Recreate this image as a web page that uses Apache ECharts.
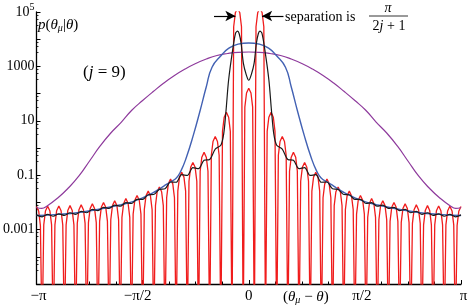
<!DOCTYPE html>
<html>
<head>
<meta charset="utf-8">
<script src="https://cdn.jsdelivr.net/npm/echarts@6/dist/echarts.min.js"></script>
<style>html,body{margin:0;padding:0;background:#fff}#c{width:471px;height:307px}</style>
</head>
<body>
<div id="c"></div>
<script>
// x in units of pi, y = p(theta_mu | theta)
const xTickValues = [-1, -0.5, 0, 0.5, 1];
const xTickLabels = ['{a|−π}', '{b|−π/2}', '0', '{c|π/2}', '{d|π}'];
const yTickValues = [1e5, 1e3, 10, 0.1, 0.001];
const yTickLabels = ['10{sup|5}', '1000', '10', '0.1', '0.001'];

const purpleCurve = [
  [-1.0, 0.0065], [-0.975, 0.0060], [-0.95, 0.0074], [-0.9, 0.0145], [-0.85, 0.0338], [-0.8, 0.0935],
  [-0.75, 0.333], [-0.7, 1.19], [-0.65, 3.56], [-0.6, 9.0], [-0.55, 24.9], [-0.5, 55.7], [-0.45, 119],
  [-0.4, 245], [-0.35, 463], [-0.3, 802], [-0.25, 1279], [-0.2, 1871], [-0.15, 2516], [-0.1, 2981],
  [-0.05, 3297], [0, 3381], [0.05, 3297], [0.1, 2981], [0.15, 2516], [0.2, 1871], [0.25, 1279],
  [0.3, 802], [0.35, 463], [0.4, 245], [0.45, 119], [0.5, 55.7], [0.55, 24.9], [0.6, 9.0], [0.65, 3.56],
  [0.7, 1.19], [0.75, 0.333], [0.8, 0.0935], [0.85, 0.0338], [0.9, 0.0145], [0.95, 0.0074],
  [0.975, 0.0060], [1.0, 0.0065]
];

const blueCurve = [
  [-1, 0.00331], [-0.9, 0.00363], [-0.8, 0.00427], [-0.7, 0.00575], [-0.6, 0.00832], [-0.55, 0.0105],
  [-0.5, 0.0148], [-0.45, 0.0229], [-0.43, 0.0282], [-0.4, 0.0398], [-0.37, 0.0562], [-0.341, 0.0794],
  [-0.32, 0.141], [-0.294, 0.447], [-0.26, 3.16], [-0.229, 24], [-0.2, 178], [-0.173, 933],
  [-0.13, 2512], [-0.0935, 4677], [-0.05, 6607], [0, 7244], [0.05, 6607], [0.0935, 4677],
  [0.13, 2512], [0.173, 933], [0.2, 178], [0.229, 24], [0.26, 3.16], [0.294, 0.447], [0.32, 0.141],
  [0.341, 0.0794], [0.37, 0.0562], [0.4, 0.0398], [0.43, 0.0282], [0.45, 0.0229], [0.5, 0.0148],
  [0.55, 0.0105], [0.6, 0.00832], [0.7, 0.00575], [0.8, 0.00427], [0.9, 0.00363], [1, 0.00331]
];

const blackCurve = [
  [-1.0, 0.00347], [-0.9737, 0.00295], [-0.9474, 0.00363], [-0.9211, 0.00309], [-0.8947, 0.00380],
  [-0.8684, 0.00331], [-0.8421, 0.00417], [-0.8158, 0.00363], [-0.7895, 0.00468], [-0.7632, 0.00417],
  [-0.7368, 0.00550], [-0.7105, 0.00501], [-0.6842, 0.00661], [-0.6579, 0.00603], [-0.6316, 0.00794],
  [-0.6053, 0.00724], [-0.5789, 0.00977], [-0.5526, 0.00912], [-0.5263, 0.0129], [-0.5, 0.0129],
  [-0.4737, 0.0191], [-0.4474, 0.0195], [-0.4211, 0.0302], [-0.3947, 0.0316], [-0.3684, 0.0562],
  [-0.3421, 0.055], [-0.3158, 0.105], [-0.2895, 0.0977], [-0.2632, 0.191], [-0.2368, 0.174],
  [-0.2105, 0.355], [-0.1842, 0.380], [-0.1579, 0.912], [-0.1316, 1.26], [-0.118, 3.31], [-0.107, 24.0],
  [-0.095, 309], [-0.076, 3981], [-0.062, 16600], [-0.0526, 19950], [-0.045, 15850], [-0.036, 7079],
  [-0.025, 1259], [-0.012, 501], [0, 309], [0.012, 501], [0.025, 1259], [0.036, 7079], [0.045, 15850],
  [0.0526, 19950], [0.062, 16600], [0.076, 3981], [0.095, 309], [0.107, 24.0], [0.118, 3.31],
  [0.1316, 1.26], [0.1579, 0.912], [0.1842, 0.380], [0.2105, 0.355], [0.2368, 0.174], [0.2632, 0.191],
  [0.2895, 0.0977], [0.3158, 0.105], [0.3421, 0.055], [0.3684, 0.0562], [0.3947, 0.0316], [0.4211, 0.0302],
  [0.4474, 0.0195], [0.4737, 0.0191], [0.5, 0.0129], [0.5263, 0.0129], [0.5526, 0.00912], [0.5789, 0.00977],
  [0.6053, 0.00724], [0.6316, 0.00794], [0.6579, 0.00603], [0.6842, 0.00661], [0.7105, 0.00501],
  [0.7368, 0.00550], [0.7632, 0.00417], [0.7895, 0.00468], [0.8158, 0.00363], [0.8421, 0.00417],
  [0.8684, 0.00331], [0.8947, 0.00380], [0.9211, 0.00309], [0.9474, 0.00363], [0.9737, 0.00295],
  [1.0, 0.00347]
];

const redCurve = [
  [-1.0000, 0.0071], [-0.9895, 0.0047], [-0.9816, 0.0014], [-0.9737, 1e-7],
  [-0.9658, 0.0015], [-0.9579, 0.0048], [-0.9474, 0.0072], [-0.9368, 0.0048], [-0.9289, 0.0015], [-0.9211, 1e-7],
  [-0.9132, 0.0015], [-0.9053, 0.0049], [-0.8947, 0.0074], [-0.8842, 0.0049], [-0.8763, 0.0015], [-0.8684, 1e-7],
  [-0.8605, 0.0015], [-0.8526, 0.0050], [-0.8421, 0.0076], [-0.8316, 0.0050], [-0.8237, 0.0015], [-0.8158, 1e-7],
  [-0.8079, 0.0017], [-0.8000, 0.0054], [-0.7895, 0.0081], [-0.7789, 0.0054], [-0.7711, 0.0017], [-0.7632, 1e-7],
  [-0.7553, 0.0018], [-0.7474, 0.0059], [-0.7368, 0.0089], [-0.7263, 0.0059], [-0.7184, 0.0018], [-0.7105, 1e-7],
  [-0.7026, 0.0020], [-0.6947, 0.0066], [-0.6842, 0.0100], [-0.6737, 0.0066], [-0.6658, 0.0020], [-0.6579, 1e-7],
  [-0.6500, 0.0023], [-0.6421, 0.0076], [-0.6316, 0.0115], [-0.6211, 0.0076], [-0.6132, 0.0023], [-0.6053, 1e-7],
  [-0.5974, 0.0028], [-0.5895, 0.0091], [-0.5789, 0.0138], [-0.5684, 0.0091], [-0.5605, 0.0028], [-0.5526, 1e-7],
  [-0.5447, 0.0037], [-0.5368, 0.0120], [-0.5263, 0.0180], [-0.5158, 0.0120], [-0.5079, 0.0037], [-0.5000, 1e-7],
  [-0.4921, 0.0054], [-0.4842, 0.0174], [-0.4737, 0.0260], [-0.4632, 0.0174], [-0.4553, 0.0054], [-0.4474, 1e-7],
  [-0.4395, 0.0076], [-0.4316, 0.0246], [-0.4211, 0.0370], [-0.4105, 0.0246], [-0.4026, 0.0076], [-0.3947, 1e-7],
  [-0.3868, 0.0148], [-0.3789, 0.048], [-0.3684, 0.072], [-0.3579, 0.048], [-0.3500, 0.0148], [-0.3421, 1e-7],
  [-0.3342, 0.026], [-0.3263, 0.085], [-0.3158, 0.129], [-0.3053, 0.085], [-0.2974, 0.026], [-0.2895, 1e-7],
  [-0.2816, 0.060], [-0.2737, 0.195], [-0.2632, 0.295], [-0.2526, 0.195], [-0.2447, 0.060], [-0.2368, 1e-7],
  [-0.2289, 0.14], [-0.2211, 0.46], [-0.2105, 0.69], [-0.2000, 0.46], [-0.1921, 0.14], [-0.1842, 1e-7],
  [-0.1763, 0.54], [-0.1684, 1.74], [-0.1579, 2.63], [-0.1474, 1.74], [-0.1395, 0.54], [-0.1316, 1e-7],
  [-0.1237, 4.1], [-0.1158, 13.5], [-0.1053, 20.4], [-0.0947, 13.5], [-0.0868, 4.1], [-0.0789, 1e-7],
  [-0.0710, 28800], [-0.0631, 93300], [-0.0526, 141000], [-0.0421, 93300], [-0.0342, 28800], [-0.0263, 1e-7],
  [-0.0184, 32], [-0.0105, 105], [0, 158], [0.0105, 105], [0.0184, 32], [0.0263, 1e-7],
  [0.0342, 28800], [0.0421, 93300], [0.0526, 141000], [0.0631, 93300], [0.0710, 28800], [0.0789, 1e-7],
  [0.0868, 4.1], [0.0947, 13.5], [0.1053, 20.4], [0.1158, 13.5], [0.1237, 4.1], [0.1316, 1e-7],
  [0.1395, 0.54], [0.1474, 1.74], [0.1579, 2.63], [0.1684, 1.74], [0.1763, 0.54], [0.1842, 1e-7],
  [0.1921, 0.14], [0.2000, 0.46], [0.2105, 0.69], [0.2211, 0.46], [0.2289, 0.14], [0.2368, 1e-7],
  [0.2447, 0.060], [0.2526, 0.195], [0.2632, 0.295], [0.2737, 0.195], [0.2816, 0.060], [0.2895, 1e-7],
  [0.2974, 0.026], [0.3053, 0.085], [0.3158, 0.129], [0.3263, 0.085], [0.3342, 0.026], [0.3421, 1e-7],
  [0.3500, 0.0148], [0.3579, 0.048], [0.3684, 0.072], [0.3789, 0.048], [0.3868, 0.0148], [0.3947, 1e-7],
  [0.4026, 0.0076], [0.4105, 0.0246], [0.4211, 0.0370], [0.4316, 0.0246], [0.4395, 0.0076], [0.4474, 1e-7],
  [0.4553, 0.0054], [0.4632, 0.0174], [0.4737, 0.0260], [0.4842, 0.0174], [0.4921, 0.0054], [0.5000, 1e-7],
  [0.5079, 0.0037], [0.5158, 0.0120], [0.5263, 0.0180], [0.5368, 0.0120], [0.5447, 0.0037], [0.5526, 1e-7],
  [0.5605, 0.0028], [0.5684, 0.0091], [0.5789, 0.0138], [0.5895, 0.0091], [0.5974, 0.0028], [0.6053, 1e-7],
  [0.6132, 0.0023], [0.6211, 0.0076], [0.6316, 0.0115], [0.6421, 0.0076], [0.6500, 0.0023], [0.6579, 1e-7],
  [0.6658, 0.0020], [0.6737, 0.0066], [0.6842, 0.0100], [0.6947, 0.0066], [0.7026, 0.0020], [0.7105, 1e-7],
  [0.7184, 0.0018], [0.7263, 0.0059], [0.7368, 0.0089], [0.7474, 0.0059], [0.7553, 0.0018], [0.7632, 1e-7],
  [0.7711, 0.0017], [0.7789, 0.0054], [0.7895, 0.0081], [0.8000, 0.0054], [0.8079, 0.0017], [0.8158, 1e-7],
  [0.8237, 0.0015], [0.8316, 0.0050], [0.8421, 0.0076], [0.8526, 0.0050], [0.8605, 0.0015], [0.8684, 1e-7],
  [0.8763, 0.0015], [0.8842, 0.0049], [0.8947, 0.0074], [0.9053, 0.0049], [0.9132, 0.0015], [0.9211, 1e-7],
  [0.9289, 0.0015], [0.9368, 0.0048], [0.9474, 0.0072], [0.9579, 0.0048], [0.9658, 0.0015], [0.9737, 1e-7],
  [0.9816, 0.0014], [0.9895, 0.0047], [1.0000, 0.0071]
];

// separation arrows (data coords)
const arrowY = 71300;
const arrowLeft = [-0.1636, -0.063];
const arrowRight = [0.1636, 0.063];

const SERIF = '"Liberation Serif", "DejaVu Serif", serif';
const chart = echarts.init(document.getElementById('c'), null, {renderer: 'canvas'});

const lbl = (extra) => Object.assign({fontFamily: SERIF, fontSize: 15, color: '#000'}, extra);

const option = {
  animation: false,
  backgroundColor: '#fff',
  grid: {left: 33, right: 10, top: 12, bottom: 23, containLabel: false},
  xAxis: {
    type: 'value', min: -1, max: 1, interval: 0.5,
    axisLine: {onZero: false, lineStyle: {color: '#000', width: 1.3}},
    axisTick: {inside: true, length: 4, lineStyle: {color: '#000', width: 1}},
    minorTick: {show: true, splitNumber: 4, length: 2.5, lineStyle: {color: '#000', width: 1}},
    splitLine: {show: false},
    axisLabel: {
      margin: 5, color: '#000', fontFamily: SERIF, fontSize: 15,
      formatter: v => { const i = xTickValues.findIndex(t => Math.abs(t - v) < 1e-9); return i >= 0 ? xTickLabels[i] : ''; },
      rich: {
        a: lbl({padding: [0, 0, 0, 4]}),
        b: lbl({padding: [0, 10, 0, 0]}),
        c: lbl({padding: [0, 0, 0, 14]}),
        d: lbl({padding: [0, 0, 0, 5]})
      }
    }
  },
  yAxis: {
    type: 'log', logBase: 10, min: 1e-5, max: 1e5, interval: 1,
    axisLine: {onZero: false, lineStyle: {color: '#000', width: 1.3}},
    axisTick: {inside: true, length: 4, lineStyle: {color: '#000', width: 1}},
    minorTick: {show: true, splitNumber: 4, length: 2, lineStyle: {color: '#000', width: 0.8}},
    splitLine: {show: false},
    axisLabel: {
      margin: 2, color: '#000', fontFamily: SERIF, fontSize: 14,
      formatter: v => { const i = yTickValues.findIndex(t => Math.abs(Math.log10(t) - Math.log10(v)) < 1e-6); return i >= 0 ? yTickLabels[i] : ''; },
      rich: {sup: {fontFamily: SERIF, fontSize: 10, padding: [0, 0, 9, 0], color: '#000'}}
    }
  },
  series: [
    {
      type: 'line', data: redCurve, showSymbol: false, smooth: false, clip: true,
      lineStyle: {color: '#f01c1c', width: 1.3}, z: 2,
      markLine: {
        silent: true, symbol: ['none', 'arrow'], symbolSize: [8, 10], animation: false,
        label: {show: false},
        lineStyle: {color: '#000', width: 1.2, type: 'solid'},
        data: [
          [{coord: [arrowLeft[0], arrowY]}, {coord: [arrowLeft[1], arrowY]}],
          [{coord: [arrowRight[0], arrowY]}, {coord: [arrowRight[1], arrowY]}]
        ]
      }
    },
    {
      type: 'line', data: purpleCurve, showSymbol: false, smooth: true, clip: true,
      lineStyle: {color: '#8e3a9c', width: 1.2}, z: 3
    },
    {
      type: 'line', data: blueCurve, showSymbol: false, smooth: true, clip: true,
      lineStyle: {color: '#4261b3', width: 1.4}, z: 4
    },
    {
      type: 'line', data: blackCurve, showSymbol: false, smooth: 0.3, clip: true,
      lineStyle: {color: '#1a1a1a', width: 1.2}, z: 5
    }
  ],
  graphic: [
    {type: 'text', x: 38, y: 25, style: {
      text: '{i|p}({i|θ}{s|μ}|{i|θ})', fill: '#000', fontFamily: SERIF, fontSize: 15,
      verticalAlign: 'middle', align: 'left',
      rich: {i: {fontFamily: SERIF, fontSize: 15, fontStyle: 'italic'}, s: {fontFamily: SERIF, fontSize: 10, fontStyle: 'italic', padding: [7, 0, 0, 0]}}
    }},
    {type: 'text', x: 83, y: 73, style: {
      text: '({i|j} = 9)', fill: '#000', fontFamily: SERIF, fontSize: 17,
      verticalAlign: 'middle', align: 'left',
      rich: {i: {fontFamily: SERIF, fontSize: 17, fontStyle: 'italic'}}
    }},
    {type: 'text', x: 285, y: 17, style: {
      text: 'separation is', fill: '#000', fontFamily: SERIF, fontSize: 14,
      verticalAlign: 'middle', align: 'left'
    }},
    {type: 'text', x: 388, y: 8, style: {
      text: 'π', fill: '#000', fontFamily: SERIF, fontSize: 14, fontStyle: 'italic',
      verticalAlign: 'middle', align: 'center'
    }},
    {type: 'line', shape: {x1: 369, y1: 16, x2: 408, y2: 16}, style: {stroke: '#000', lineWidth: 0.8}},
    {type: 'text', x: 389, y: 26, style: {
      text: '2{i|j} + 1', fill: '#000', fontFamily: SERIF, fontSize: 14,
      verticalAlign: 'middle', align: 'center',
      rich: {i: {fontFamily: SERIF, fontSize: 14, fontStyle: 'italic'}}
    }},
    {type: 'text', x: 283, y: 297, style: {
      text: '({i|θ}{s|μ} − {i|θ})', fill: '#000', fontFamily: SERIF, fontSize: 15,
      verticalAlign: 'middle', align: 'left',
      rich: {i: {fontFamily: SERIF, fontSize: 15, fontStyle: 'italic'}, s: {fontFamily: SERIF, fontSize: 10, fontStyle: 'italic', padding: [7, 0, 0, 0]}}
    }}
  ]
};
chart.setOption(option);
</script>
</body>
</html>
